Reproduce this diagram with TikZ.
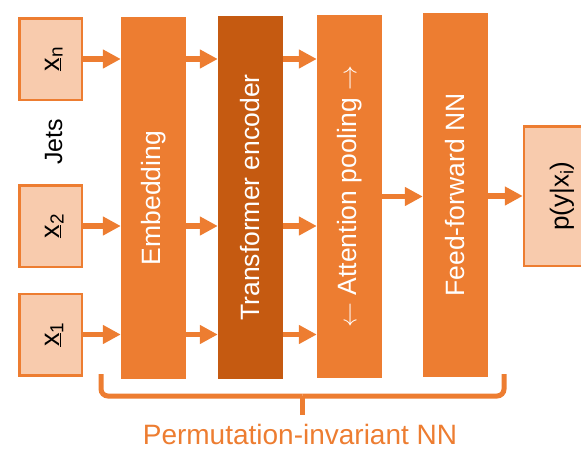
\documentclass[tikz,border=0pt]{standalone}
\usepackage{fontspec}
\setmainfont{Liberation Sans}
\usetikzlibrary{arrows.meta}
\definecolor{orng}{HTML}{ED7D31}
\definecolor{dorng}{HTML}{C55A11}
\definecolor{peach}{HTML}{F8CBAD}
\begin{document}
\begin{tikzpicture}[x=1pt,y=-1pt,
  inbox/.style={draw=orng, line width=2.5pt, fill=peach, inner sep=0pt,
    minimum width=62.5pt, minimum height=81.5pt},
  intext/.style={rotate=90, anchor=base, inner sep=0pt, font=\fontsize{27}{30}\selectfont},
  block/.style={fill=orng, inner sep=0pt, minimum width=65pt, text=white,
    font=\fontsize{26.5}{30}\selectfont},
  darkblock/.style={block, fill=dorng},
  outbox/.style={draw=orng, line width=2.5pt, fill=peach, inner sep=0pt,
    minimum width=76pt, minimum height=139.5pt, font=\fontsize{26}{30}\selectfont},
  arr/.style={draw=orng, line width=5.5pt, -{Triangle[length=18pt,width=18pt]}},
  braceline/.style={draw=orng, line width=5pt, rounded corners=7pt},
  lbl/.style={font=\fontsize{25}{28}\selectfont}
]
\useasboundingbox (0,0) rectangle (581,450);

% inputs
\node[inbox] (xn) at (50.5,59) {};
\node[inbox] (x2) at (50.5,226) {};
\node[inbox] (x1) at (50.5,334.5) {};
\node[intext] (txn) at (59,59) {\underline{x}\textsubscript{n}};
\node[intext] (tx2) at (59,226) {\underline{x}\textsubscript{2}};
\node[intext] (tx1) at (59,334.5) {\underline{x}\textsubscript{1}};
\node[lbl, rotate=90, anchor=base, inner sep=0pt] (jets) at (62,142) {Jets};

% blocks
\node[block, minimum height=362pt] (emb) at (153.5,198) {\rotatebox{90}{Embedding}};
\node[darkblock, minimum height=363pt] (trf) at (250.5,197.5) {\rotatebox{90}{Transformer encoder}};
\node[block, minimum height=363pt] (att) at (349.5,196.5) {\rotatebox{90}{$\leftarrow$ Attention pooling $\rightarrow$}};
\node[block, minimum height=364pt] (ffn) at (455.5,195) {\rotatebox{90}{Feed-forward NN}};
\node[outbox] (out) at (562,196) {\rotatebox{90}{p(y|x\textsubscript{i})}};

% arrows
\foreach \src in {xn,x2,x1}{
  \draw[arr] (\src.east) -- (\src.east -| emb.west);
  \draw[arr] (\src.east -| emb.east) -- (\src.east -| trf.west);
  \draw[arr] (\src.east -| trf.east) -- (\src.east -| att.west);
}
\draw[arr] (att.east) -- (att.east -| ffn.west);
\draw[arr] (out.west -| ffn.east) -- (out.west);

% brace
\coordinate (bl) at (101,374);
\coordinate (br) at (504,374);
\coordinate (bm) at (302.5,396);
\coordinate (bt) at (302.5,415);
\draw[braceline] (bl) |- (bm);
\draw[braceline] (br) |- (bm);
\draw[draw=orng, line width=5pt] (bm) -- (bt);
\node[text=orng, anchor=base, inner sep=0pt, font=\fontsize{28}{32}\selectfont] (pinn) at (300,444.5) {Permutation-invariant NN};
\end{tikzpicture}
\end{document}
